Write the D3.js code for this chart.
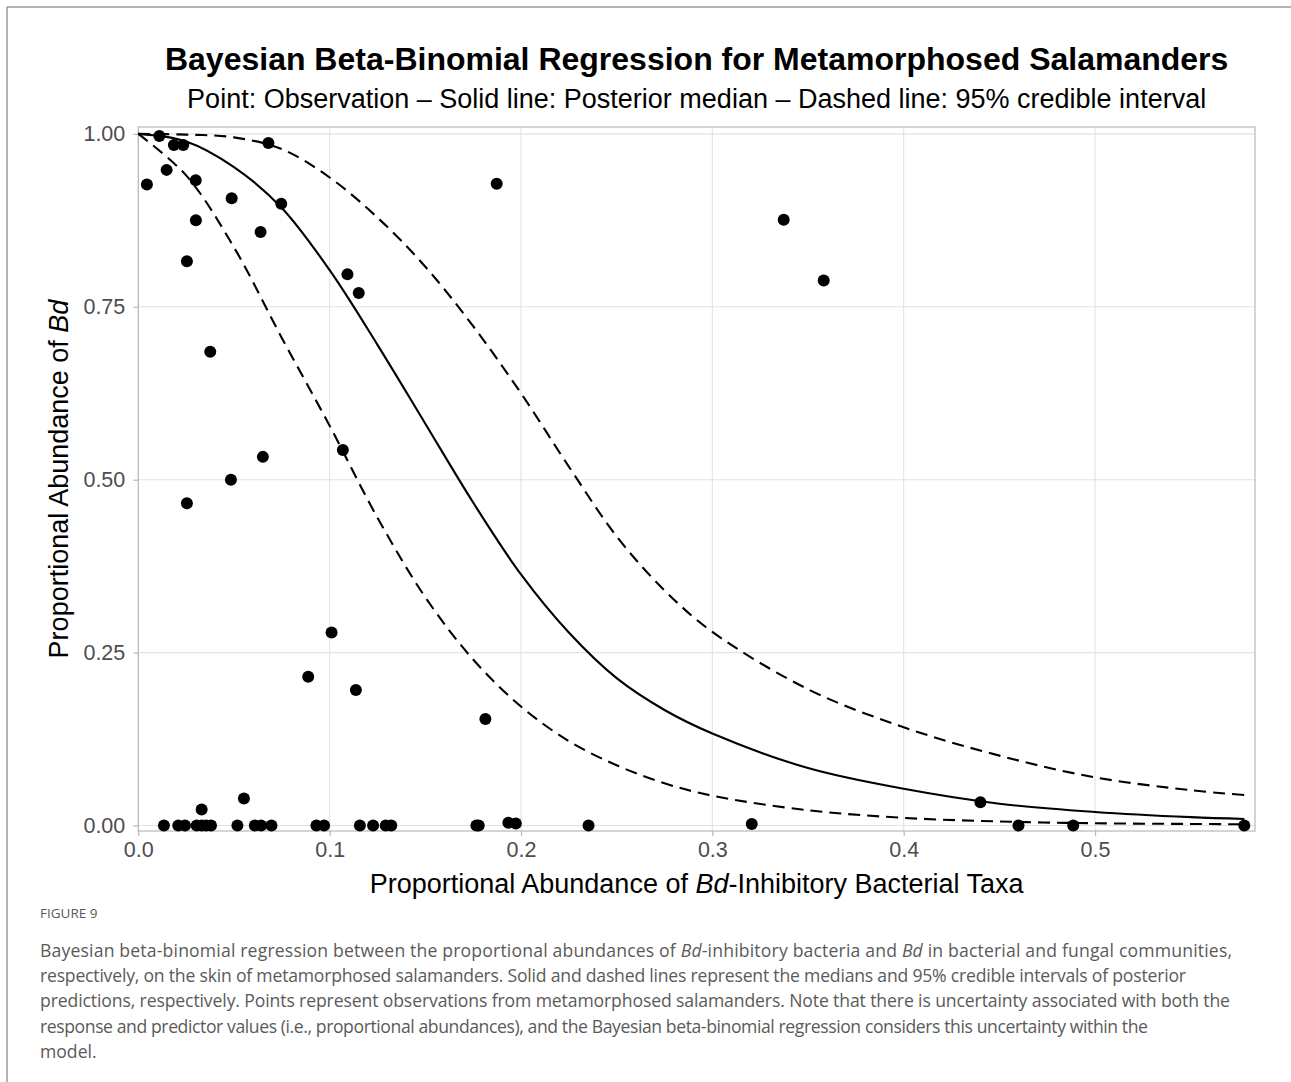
<!DOCTYPE html>
<html>
<head>
<meta charset="utf-8">
<script src="https://cdn.jsdelivr.net/npm/d3@7"></script>
<style>
  body { margin: 0; background: #fff; }
  svg { display: block; }
</style>
</head>
<body>
<svg id="chart"></svg>
<script>
// observations (x = Bd-inhibitory bacteria, y = Bd)
const obsX = [0.0045, 0.011, 0.0186, 0.0235, 0.0148, 0.030, 0.0301, 0.0254, 0.0376, 0.0488,
    0.0639, 0.068, 0.0747, 0.1093, 0.1152, 0.1873, 0.3373, 0.3582, 0.1069, 0.0651,
    0.0484, 0.0254, 0.101, 0.0888, 0.1137, 0.1814, 0.0552, 0.0331, 0.4401,
    0.0134, 0.0209, 0.0244, 0.0305, 0.0331, 0.0354, 0.038, 0.0518, 0.0609, 0.0642,
    0.0696, 0.0931, 0.0971, 0.1158, 0.1227, 0.1293, 0.1322, 0.1767, 0.1779, 0.1934,
    0.1973, 0.2353, 0.3206, 0.46, 0.4886, 0.578];
const obsY = [0.927, 0.997, 0.984, 0.984, 0.948, 0.933, 0.875, 0.816, 0.685, 0.907,
    0.858, 0.987, 0.899, 0.797, 0.770, 0.928, 0.876, 0.788, 0.543, 0.533,
    0.500, 0.466, 0.279, 0.215, 0.196, 0.154, 0.039, 0.023, 0.0336,
    0, 0, 0, 0, 0, 0, 0, 0, 0, 0,
    0, 0, 0, 0, 0, 0, 0, 0, 0, 0.004,
    0.003, 0, 0.002, 0, 0, 0];

// posterior predictions
const curveX = [0, 0.025, 0.05, 0.075, 0.1, 0.125, 0.15, 0.175, 0.2, 0.225,
    0.25, 0.275, 0.3, 0.35, 0.4, 0.45, 0.5, 0.55, 0.578];
const medianY = [1.0, 0.989, 0.952, 0.893, 0.803, 0.695, 0.581, 0.467, 0.363, 0.279,
    0.213, 0.167, 0.133, 0.083, 0.053, 0.0315, 0.0195, 0.012, 0.0094];
const lowerY = [1.0, 0.940, 0.836, 0.705, 0.578, 0.445, 0.330, 0.240, 0.172, 0.122,
    0.087, 0.061, 0.043, 0.022, 0.011, 0.0058, 0.0032, 0.0022, 0.0017];
const upperY = [1.0, 0.999, 0.995, 0.978, 0.937, 0.879, 0.808, 0.722, 0.625, 0.519,
    0.418, 0.340, 0.280, 0.197, 0.142, 0.101, 0.0696, 0.051, 0.044];

const xTicks = [0, 0.1, 0.2, 0.3, 0.4, 0.5];
const yTicks = [0, 0.25, 0.5, 0.75, 1];

const WIDTH = 1291, HEIGHT = 1082;
const PANEL = { left: 138.3, right: 1255, top: 127, bottom: 831 };
const FONT = 'Liberation Sans, Arial, sans-serif';

const svg = d3.select('#chart').attr('width', WIDTH).attr('height', HEIGHT);

// page frame
svg.append('line').attr('x1', 7).attr('x2', WIDTH).attr('y1', 7).attr('y2', 7)
    .attr('stroke', '#9a9a9a').attr('stroke-width', 1.5);
svg.append('line').attr('x1', 7).attr('x2', 7).attr('y1', 7).attr('y2', HEIGHT)
    .attr('stroke', '#9a9a9a').attr('stroke-width', 1.5);

const x = d3.scaleLinear().domain([0, 0.5836]).range([PANEL.left, PANEL.right]);
const y = d3.scaleLinear().domain([-0.008, 1.010]).range([PANEL.bottom, PANEL.top]);

// grid
const grid = svg.append('g');
grid.selectAll('.gx').data(xTicks).enter().append('line')
    .attr('x1', d => x(d)).attr('x2', d => x(d))
    .attr('y1', PANEL.top).attr('y2', PANEL.bottom)
    .attr('stroke', '#e3e3e3').attr('stroke-width', 1.1);
grid.selectAll('.gy').data(yTicks).enter().append('line')
    .attr('x1', PANEL.left).attr('x2', PANEL.right)
    .attr('y1', d => y(d)).attr('y2', d => y(d))
    .attr('stroke', '#e3e3e3').attr('stroke-width', 1.1);

// panel border
svg.append('rect')
    .attr('x', PANEL.left).attr('y', PANEL.top)
    .attr('width', PANEL.right - PANEL.left).attr('height', PANEL.bottom - PANEL.top)
    .attr('fill', 'none').attr('stroke', '#b8b8b8').attr('stroke-width', 1.2);

// axes
const xAxis = svg.append('g')
    .attr('transform', `translate(0,${PANEL.bottom})`)
    .call(d3.axisBottom(x).tickValues(xTicks).tickFormat(d3.format('.1f')).tickSize(5).tickPadding(6));
const yAxis = svg.append('g')
    .attr('transform', `translate(${PANEL.left},0)`)
    .call(d3.axisLeft(y).tickValues(yTicks).tickFormat(d3.format('.2f')).tickSize(5).tickPadding(8));
[xAxis, yAxis].forEach(a => {
    a.select('.domain').remove();
    a.selectAll('line').attr('stroke', '#b8b8b8').attr('stroke-width', 1.2);
    a.selectAll('text').attr('fill', '#4d4d4d').attr('font-size', 21.5).attr('font-family', FONT);
});

// curves
const line = d3.line()
    .x((d, i) => x(curveX[i]))
    .y(d => y(d))
    .curve(d3.curveCatmullRom.alpha(0.5));
const curves = [
    { vals: upperY, dash: '12,7' },
    { vals: lowerY, dash: '12,7' },
    { vals: medianY, dash: null }
];
svg.selectAll('.curve').data(curves).enter().append('path')
    .attr('d', d => line(d.vals))
    .attr('fill', 'none')
    .attr('stroke', '#000')
    .attr('stroke-width', 2.1)
    .attr('stroke-dasharray', d => d.dash);

// points
svg.selectAll('.pt').data(obsX).enter().append('circle')
    .attr('cx', d => x(d))
    .attr('cy', (d, i) => y(obsY[i]))
    .attr('r', 6)
    .attr('fill', '#000');

// titles
const cx = (PANEL.left + PANEL.right) / 2;
svg.append('text').attr('x', cx).attr('y', 70).attr('text-anchor', 'middle')
    .attr('font-family', FONT).attr('font-weight', 'bold').attr('font-size', 32)
    .text('Bayesian Beta-Binomial Regression for Metamorphosed Salamanders');
svg.append('text').attr('x', cx).attr('y', 108).attr('text-anchor', 'middle')
    .attr('font-family', FONT).attr('font-size', 27)
    .text('Point: Observation \u2013 Solid line: Posterior median \u2013 Dashed line: 95% credible interval');

const xTitle = svg.append('text').attr('x', cx).attr('y', 893).attr('text-anchor', 'middle')
    .attr('font-family', FONT).attr('font-size', 27);
xTitle.append('tspan').text('Proportional Abundance of ');
xTitle.append('tspan').attr('font-style', 'italic').text('Bd');
xTitle.append('tspan').text('-Inhibitory Bacterial Taxa');

const yTitle = svg.append('text')
    .attr('transform', `translate(68,${(PANEL.top + PANEL.bottom) / 2}) rotate(-90)`)
    .attr('text-anchor', 'middle')
    .attr('font-family', FONT).attr('font-size', 27);
yTitle.append('tspan').text('Proportional Abundance of ');
yTitle.append('tspan').attr('font-style', 'italic').text('Bd');

// caption
const CAP_FONT = 'Open Sans, Noto Sans, sans-serif';
svg.append('text').attr('x', 40).attr('y', 918)
    .attr('font-family', CAP_FONT).attr('font-size', 13.5).attr('fill', '#5a5a5a')
    .text('FIGURE 9');

const captionLines = [
    { w: 1192, parts: [['Bayesian beta-binomial regression between the proportional abundances of ', 0], ['Bd', 1],
     ['-inhibitory bacteria and ', 0], ['Bd', 1], [' in bacterial and fungal communities,', 0]] },
    { w: 1146, parts: [['respectively, on the skin of metamorphosed salamanders. Solid and dashed lines represent the medians and 95% credible intervals of posterior', 0]] },
    { w: 1190, parts: [['predictions, respectively. Points represent observations from metamorphosed salamanders. Note that there is uncertainty associated with both the', 0]] },
    { w: 1108, parts: [['response and predictor values (i.e., proportional abundances), and the Bayesian beta-binomial regression considers this uncertainty within the', 0]] },
    { w: null, parts: [['model.', 0]] }
];
captionLines.forEach((ln, i) => {
    const t = svg.append('text').attr('x', 40).attr('y', 957 + i * 25.2)
        .attr('font-family', CAP_FONT).attr('font-size', 17.6).attr('fill', '#5a5a5a');
    ln.parts.forEach(p => {
        t.append('tspan').attr('font-style', p[1] ? 'italic' : null).text(p[0]);
    });
    if (ln.w) t.attr('textLength', ln.w).attr('lengthAdjust', 'spacing');
});
</script>
</body>
</html>
